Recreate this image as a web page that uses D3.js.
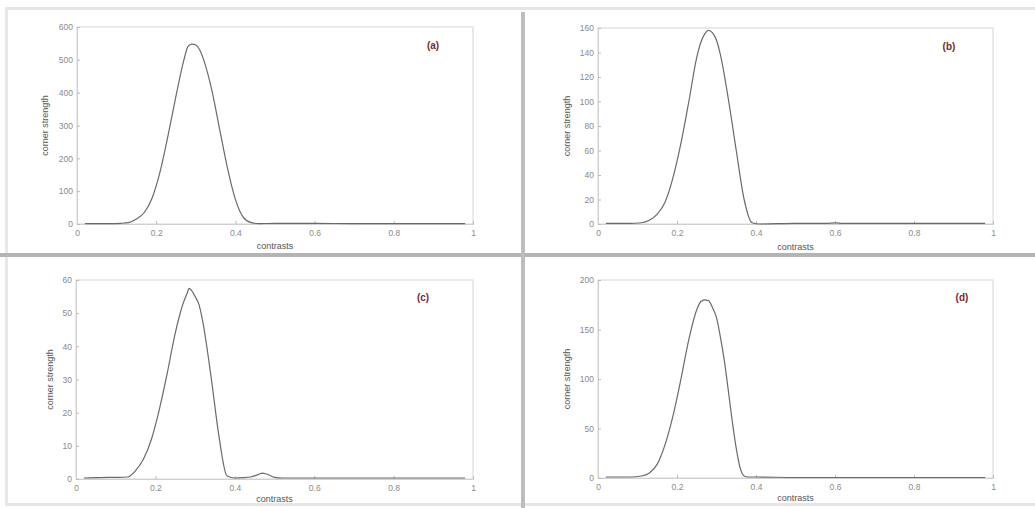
<!DOCTYPE html>
<html><head><meta charset="utf-8">
<script src="https://cdn.jsdelivr.net/npm/d3@7"></script>
<style>
html,body{margin:0;padding:0;background:#fff;}
svg{display:block;font-family:"Liberation Sans",Arial,sans-serif;}
</style></head>
<body>
<svg id="chart" width="1035" height="508"></svg>
<script>
// ---------- data ----------
const xA = [0.02,0.05,0.08,0.11,0.13,0.15,0.17,0.19,0.21,0.23,0.25,0.27,0.28,0.29,0.30,0.31,0.32,0.34,0.36,0.38,0.40,0.42,0.44,0.46,0.5,0.6,0.7,0.8,0.9,0.98];
const yA = [1,1,1,2,4,15,35,80,160,270,390,500,540,548,545,530,500,410,290,170,75,20,4,1,2,2,1,1,1,1];

const xB = [0.02,0.05,0.08,0.11,0.13,0.15,0.17,0.19,0.21,0.23,0.25,0.26,0.27,0.28,0.29,0.30,0.31,0.33,0.35,0.37,0.39,0.41,0.5,0.58,0.6,0.62,0.7,0.8,0.9,0.98];
const yB = [0.5,0.5,0.5,1,3,8,18,38,66,100,136,148,155,158,156,150,138,102,60,20,1,0,0.5,0.5,1,0.5,0.5,0.5,0.5,0.5];

const xC = [0.02,0.05,0.08,0.11,0.13,0.15,0.17,0.19,0.21,0.23,0.25,0.27,0.28,0.285,0.29,0.30,0.31,0.32,0.34,0.36,0.38,0.40,0.42,0.44,0.46,0.47,0.48,0.50,0.52,0.6,0.7,0.8,0.9,0.98];
const yC = [0.3,0.4,0.5,0.5,0.6,2.5,6,12,21,32,44,53,56,57.5,57,55,52.5,47,31,13,1,0.3,0.4,0.6,1.4,1.8,1.5,0.5,0.3,0.3,0.3,0.3,0.3,0.3];

const xD = [0.02,0.05,0.08,0.11,0.13,0.15,0.17,0.19,0.21,0.23,0.25,0.26,0.27,0.28,0.29,0.30,0.31,0.32,0.33,0.34,0.35,0.36,0.37,0.38,0.4,0.5,0.6,0.7,0.8,0.9,0.98];
const yD = [1,1,1,2,5,14,34,63,100,140,170,178,180,179,172,162,142,118,88,57,30,10,2,1,1,0.5,0.5,0.5,0.5,0.5,0.5];

const xTicks = [0,0.2,0.4,0.6,0.8,1];
const xTickLabels = ["0","0.2","0.4","0.6","0.8","1"];
const yTicksA = [0,100,200,300,400,500,600];
const yTicksB = [0,20,40,60,80,100,120,140,160];
const yTicksC = [0,10,20,30,40,50,60];
const yTicksD = [0,50,100,150,200];
const panelLabels = ["(a)","(b)","(c)","(d)"];
const xTitle = "contrasts";
const yTitle = "corner strength";

// ---------- layout ----------
const svg = d3.select("#chart");
svg.append("rect").attr("x",0).attr("y",0).attr("width",1035).attr("height",508).attr("fill","#fff");
svg.append("rect").attr("x",6).attr("y",7).attr("width",1029).attr("height",3).attr("fill","#e6e6e6");
svg.append("rect").attr("x",5).attr("y",7).attr("width",3).attr("height",497).attr("fill","#e8e8e8");
svg.append("rect").attr("x",5).attr("y",503).attr("width",1030).attr("height",3).attr("fill","#e6e6e6");
svg.append("rect").attr("x",0).attr("y",253).attr("width",1035).attr("height",4).attr("fill","#b4b4b4");
svg.append("rect").attr("x",521).attr("y",12).attr("width",4).attr("height",496).attr("fill","#bdbdbd");

const panels = [
  {xs:xA, ys:yA, yTicks:yTicksA, ymax:600, x0:77, x1:473, yT:27, yB:224, lab:panelLabels[0], lx:433, ly:49, ytx:45, xty:249},
  {xs:xB, ys:yB, yTicks:yTicksB, ymax:160, x0:598, x1:993, yT:28, yB:224, lab:panelLabels[1], lx:949, ly:50, ytx:567, xty:250},
  {xs:xC, ys:yC, yTicks:yTicksC, ymax:60, x0:76, x1:473, yT:280, yB:479, lab:panelLabels[2], lx:423, ly:301, ytx:50, xty:502},
  {xs:xD, ys:yD, yTicks:yTicksD, ymax:200, x0:598, x1:993, yT:280, yB:478, lab:panelLabels[3], lx:962, ly:301, ytx:567, xty:501}
];

panels.forEach(p => {
  const x = d3.scaleLinear().domain([0,1]).range([p.x0,p.x1]);
  const y = d3.scaleLinear().domain([0,p.ymax]).range([p.yB,p.yT]);
  const g = svg.append("g");
  g.append("rect").attr("x",p.x0).attr("y",p.yT).attr("width",p.x1-p.x0).attr("height",p.yB-p.yT)
    .attr("fill","none").attr("stroke","#dcdcdc").attr("stroke-width",1.2);
  const xa = d3.axisBottom(x).tickValues(xTicks).tickFormat((d,i)=>xTickLabels[i]).tickSize(-3).tickPadding(6);
  const ya = d3.axisLeft(y).tickValues(p.yTicks).tickFormat(d3.format("d")).tickSize(-3).tickPadding(4);
  const gx = g.append("g").attr("transform",`translate(0,${p.yB})`).call(xa);
  const gy = g.append("g").attr("transform",`translate(${p.x0},0)`).call(ya);
  [gx,gy].forEach(a=>{
    a.select(".domain").attr("stroke","#d0d0d0");
    a.selectAll(".tick line").attr("stroke","#bbb");
    a.selectAll(".tick text").attr("fill","#8a8a8a").attr("font-size",8.5);
  });
  g.append("text").attr("x",(p.x0+p.x1)/2).attr("y",p.xty).attr("text-anchor","middle")
    .attr("font-size",9).attr("fill","#555").text(xTitle);
  g.append("text").attr("transform",`translate(${p.ytx},${(p.yT+p.yB)/2}) rotate(-90)`)
    .attr("text-anchor","middle").attr("dy","0.35em").attr("font-size",9).attr("fill","#555").text(yTitle);
  g.append("text").attr("x",p.lx).attr("y",p.ly).attr("text-anchor","middle")
    .attr("font-size",10).attr("font-weight","bold").attr("fill","#7b2630").text(p.lab);
  const pts = p.xs.map((v,i)=>[v,p.ys[i]]);
  g.append("path").datum(pts)
    .attr("d", d3.line().x(d=>x(d[0])).y(d=>y(d[1])).curve(d3.curveMonotoneX))
    .attr("fill","none").attr("stroke","#6a6a6a").attr("stroke-width",1.2);
});
</script>
</body></html>
